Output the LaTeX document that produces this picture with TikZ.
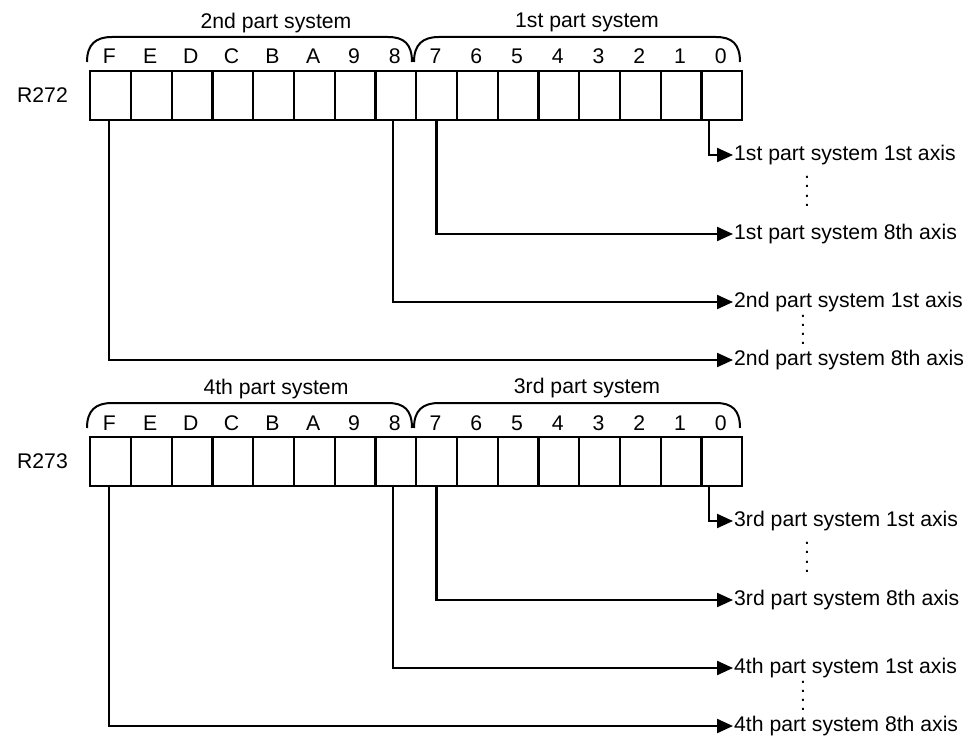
\documentclass[tikz,border=0pt]{standalone}
\usepackage{fontspec}
\setmainfont{Liberation Sans}
\usetikzlibrary{arrows.meta,calc}
\begin{document}
\begin{tikzpicture}[x=1bp,y=-1bp,
  txt/.style={font=\fontsize{21.2bp}{25bp}\selectfont, inner sep=0pt},
  dots/.style={font=\fontsize{21.2bp}{18.5bp}\selectfont, inner sep=0pt, align=center},
  cell/.style={draw, line width=2.4bp, minimum width=40.75bp, minimum height=49bp, inner sep=0pt, anchor=north west},
  brace/.style={line width=2bp},
  conn/.style={line width=2.2bp, -{Triangle[length=16bp,width=14bp]}},
  axis/.style={txt, anchor=west, inner sep=1bp}]
\useasboundingbox[fill=white] (0,0) rectangle (969,738);
\foreach \reg/\yy/\lab/\hi/\lo in {a/0/R272/2nd/1st, b/366/R273/4th/3rd}{
  \foreach \i/\ch in {0/0,1/1,2/2,3/3,4/4,5/5,6/6,7/7,8/8,9/9,10/A,11/B,12/C,13/D,14/E,15/F}{
    \node[cell] (\reg\i) at ({89+(15-\i)*40.75},{\yy+70}) {};
    \node[txt, anchor=base] (\reg l\i) at ({109.4+(15-\i)*40.75},{\yy+64}) {\ch};
  }
  \node[txt, anchor=east] (\reg name) at (68,{\yy+95}) {\lab};
  \node[txt] (\reg hi) at (276,{\yy+23}) {\hi\ part system};
  \node[txt] (\reg lo) at (587,{\yy+22}) {\lo\ part system};
  \draw[brace] (87,{\yy+62}) .. controls (87,{\yy+44}) and (96,{\yy+37}) .. (112,{\yy+37})
     -- (388,{\yy+37}) .. controls (404,{\yy+37}) and (412,{\yy+44}) .. (412,{\yy+62});
  \draw[brace] (414,{\yy+62}) .. controls (414,{\yy+44}) and (423,{\yy+37}) .. (439,{\yy+37})
     -- (716,{\yy+37}) .. controls (732,{\yy+37}) and (740,{\yy+44}) .. (740,{\yy+62});
  \node[axis] (\reg t1) at (733,{\yy+155}) {\lo\ part system 1st axis};
  \node[axis] (\reg t2) at (733,{\yy+234}) {\lo\ part system 8th axis};
  \node[axis] (\reg t3) at (733,{\yy+302}) {\hi\ part system 1st axis};
  \node[axis] (\reg t4) at (733,{\yy+360}) {\hi\ part system 8th axis};
  \node[dots] (\reg d1) at (807,{\yy+191.5}) {:\\:};
  \node[dots] (\reg d2) at (803,{\yy+330}) {:\\:};
  \draw[conn] ([xshift=-12.6bp]\reg0.south) |- (\reg t1.west);
  \draw[conn] (\reg7.south) |- (\reg t2.west);
  \draw[conn] ([xshift=-2.5bp]\reg8.south) |- (\reg t3.west);
  \draw[conn] ([xshift=-1.5bp]\reg15.south) |- (\reg t4.west);
}
\end{tikzpicture}
\end{document}
